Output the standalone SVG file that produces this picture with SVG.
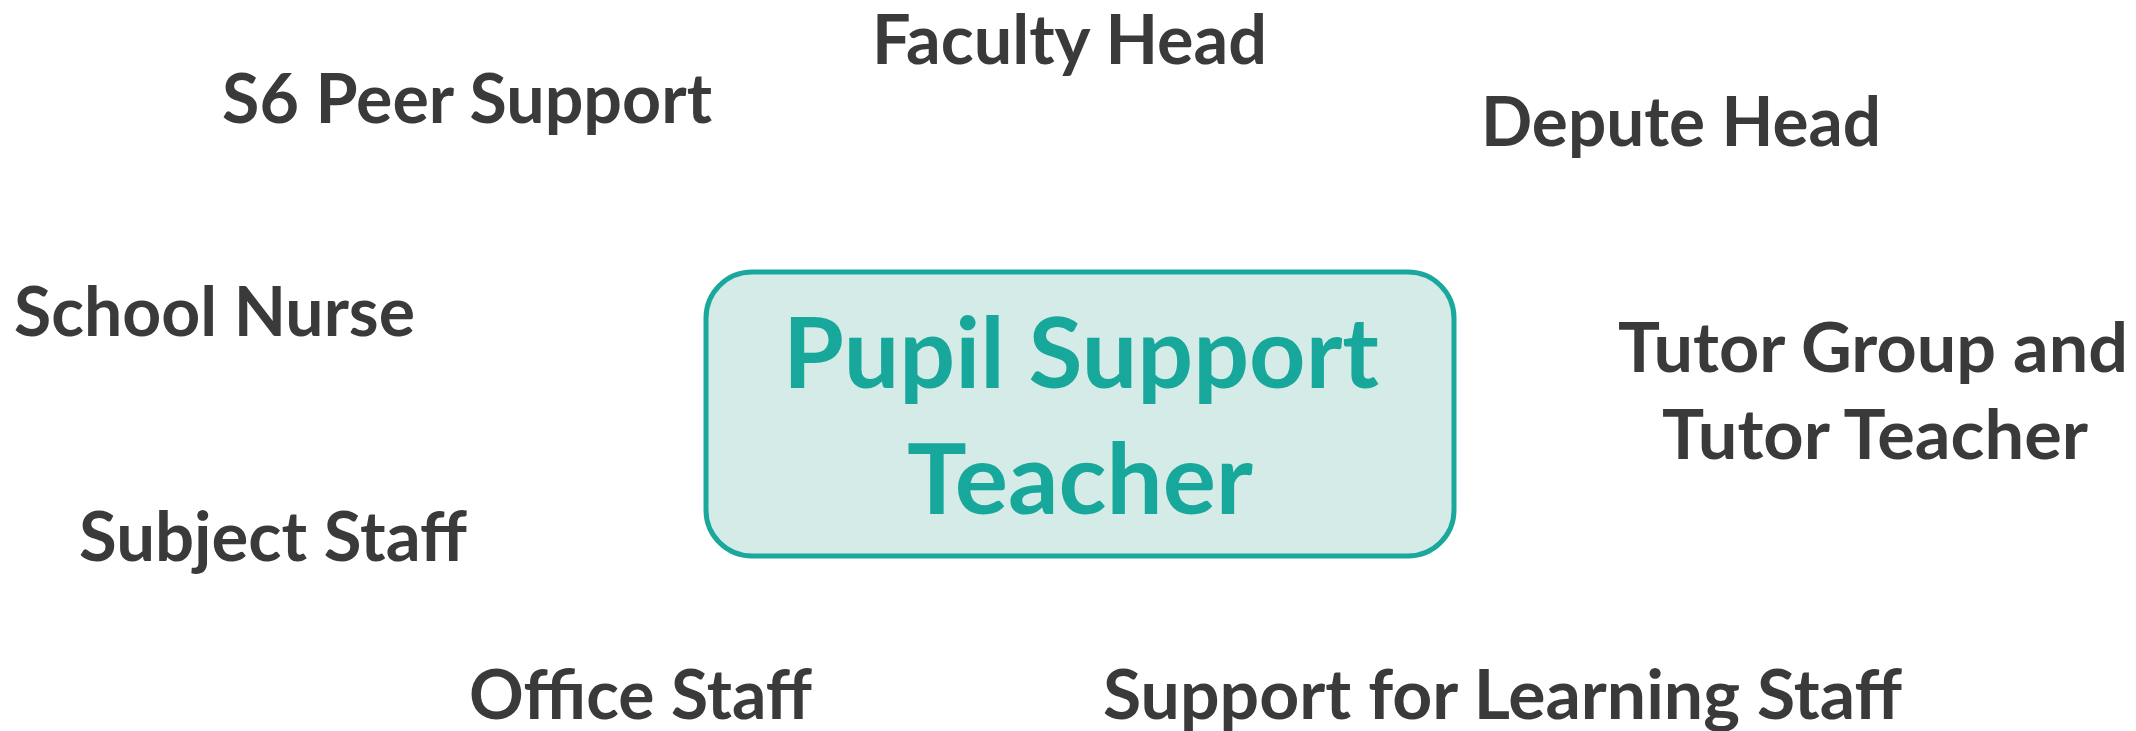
<svg xmlns="http://www.w3.org/2000/svg" width="2136" height="731" viewBox="0 0 2136 731">
<style>
.lbl{font-family:Lato,"Open Sans","Liberation Sans",sans-serif;font-weight:700;font-size:68px;fill:#3b3a3a}
.ctr{font-family:Lato,"Open Sans","Liberation Sans",sans-serif;font-weight:700;font-size:98px;fill:#18a89b}
</style>
<rect width="2136" height="731" fill="#ffffff"/>
<g id="connectors"></g>
<g id="center">
<rect x="706" y="272" width="748" height="284" rx="46" ry="46" fill="#d4ebe7" stroke="#1aa89c" stroke-width="5"/>
<text class="ctr" x="783" y="388" textLength="596" lengthAdjust="spacingAndGlyphs">Pupil Support</text>
<text class="ctr" x="907" y="514" textLength="346" lengthAdjust="spacingAndGlyphs">Teacher</text>
</g>
<g id="faculty-head"><text class="lbl" x="872" y="64" textLength="395" lengthAdjust="spacingAndGlyphs">Faculty Head</text></g>
<g id="s6-peer-support"><text class="lbl" x="222" y="123" textLength="490" lengthAdjust="spacingAndGlyphs">S6 Peer Support</text></g>
<g id="depute-head"><text class="lbl" x="1481" y="146" textLength="400" lengthAdjust="spacingAndGlyphs">Depute Head</text></g>
<g id="school-nurse"><text class="lbl" x="14" y="336" textLength="401" lengthAdjust="spacingAndGlyphs">School Nurse</text></g>
<g id="tutor-group">
<text class="lbl" x="1618" y="372" textLength="510" lengthAdjust="spacingAndGlyphs">Tutor Group and</text>
<text class="lbl" x="1662" y="459" textLength="426" lengthAdjust="spacingAndGlyphs">Tutor Teacher</text>
</g>
<g id="subject-staff"><text class="lbl" x="79" y="561" textLength="388" lengthAdjust="spacingAndGlyphs">Subject Staff</text></g>
<g id="office-staff"><text class="lbl" x="469" y="719" textLength="343" lengthAdjust="spacingAndGlyphs">Office Staff</text></g>
<g id="support-for-learning"><text class="lbl" x="1103" y="719" textLength="799" lengthAdjust="spacingAndGlyphs">Support for Learning Staff</text></g>
</svg>
